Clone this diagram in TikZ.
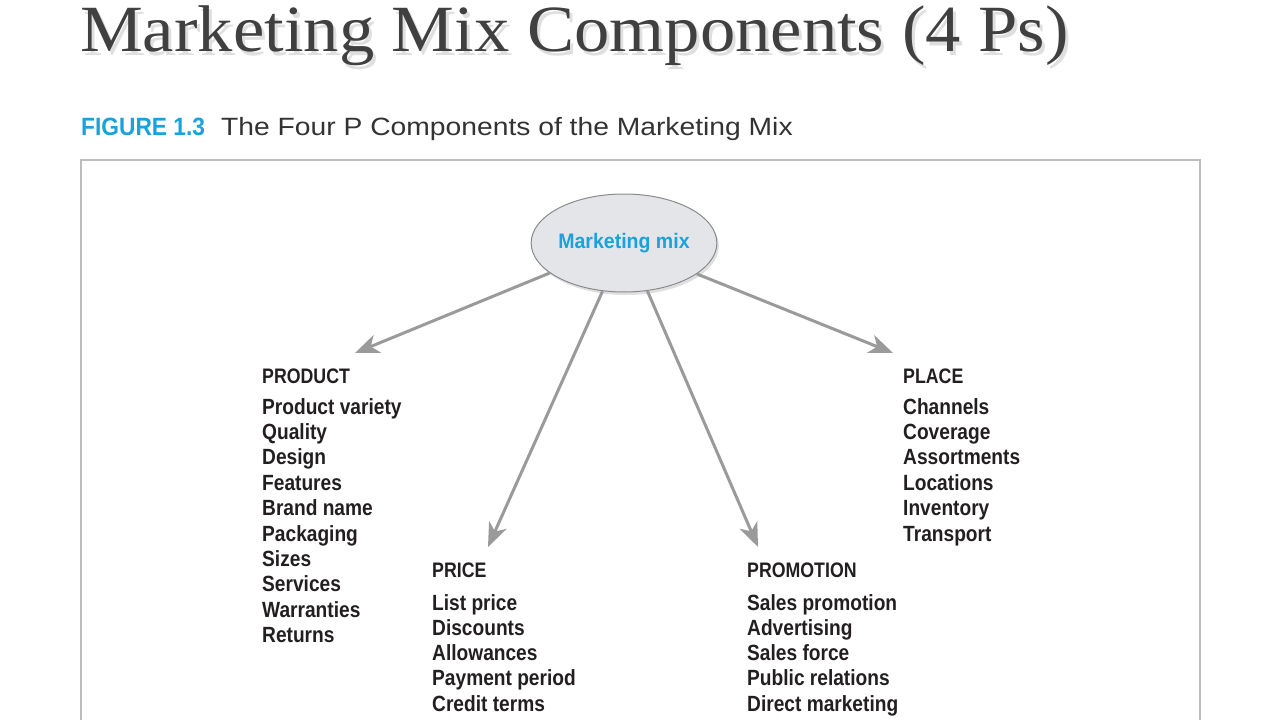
\documentclass[tikz,border=0pt]{standalone}
\usepackage{fontspec}
\setmainfont{Liberation Serif}
\newfontfamily\titlefont[FakeStretch=1.07]{Liberation Serif}
\newfontfamily\condsans[FakeStretch=0.87]{Liberation Sans}
\newfontfamily\headsans[FakeStretch=0.845]{Liberation Sans}
\newfontfamily\figsans[FakeStretch=0.91]{Liberation Sans}
\newfontfamily\ellsans[FakeStretch=0.93]{Liberation Sans}
\newfontfamily\plainsans[FakeStretch=1.13]{Liberation Sans}
\usetikzlibrary{arrows.meta,shapes.geometric,shadows}
\definecolor{blue1}{HTML}{1BA1DB}
\definecolor{txt}{HTML}{231F20}
\definecolor{subtxt}{HTML}{333333}
\definecolor{arrgray}{HTML}{9A9A9A}
\definecolor{ellfill}{HTML}{E4E5E9}
\definecolor{ellline}{HTML}{8A8A8A}
\definecolor{framegray}{HTML}{BDBDBD}
\tikzset{
  x=1pt, y=-1pt,
  titletext/.style={anchor=base west, inner sep=0pt, font=\titlefont\fontsize{66}{66}\selectfont},
  item/.style={anchor=base west, inner sep=0pt, text=txt, font=\condsans\bfseries\fontsize{22}{22}\selectfont},
  head/.style={item, font=\headsans\bfseries\fontsize{21}{21}\selectfont},
  arr/.style={draw=arrgray, line width=3pt, -{Stealth[length=24pt,width=19pt,inset=7pt]}},
}
\begin{document}
\begin{tikzpicture}
\useasboundingbox (0,0) rectangle (1280,720);
\clip (0,0) rectangle (1280,720);
% title
\node[titletext, text=gray!25] (titleshadow) at (83,55) {Marketing Mix Components (4 Ps)};
\node[titletext, text=black!75] (title) at (80,51) {Marketing Mix Components (4 Ps)};
% subtitle
\node[anchor=base west, inner sep=0pt, text=blue1, font=\figsans\bfseries\fontsize{25}{25}\selectfont] (fig) at (81,135) {FIGURE 1.3};
\node[anchor=base west, inner sep=0pt, text=subtxt, font=\plainsans\fontsize{25}{25}\selectfont] (cap) at (221,135) {The Four P Components of the Marketing Mix};
% frame
\draw[framegray, line width=1.5pt] (81,740) -- (81,160) -- (1200,160) -- (1200,740);
% ellipse
\node[ellipse, minimum width=181pt, minimum height=98pt, inner sep=0pt, fill=ellfill, draw=ellline, line width=1pt,
  drop shadow={shadow xshift=2pt, shadow yshift=-3pt, opacity=0.25},
  text=blue1, font=\ellsans\bfseries\fontsize{21}{21}\selectfont] (mm) at (624,243) {Marketing mix};
% arrow targets
\coordinate (tprod) at (355,353);
\coordinate (tprice) at (488,547);
\coordinate (tpromo) at (758,547);
\coordinate (tplace) at (893,353);
\draw[arr] (mm.202.6) -- (tprod);
\draw[arr] (mm.246.4) -- (tprice);
\draw[arr] (mm.296.6) -- (tpromo);
\draw[arr] (mm.337.7) -- (tplace);
% PRODUCT
\node[head] (hprod) at (262,383) {PRODUCT};
\foreach \t [count=\i] in {Product variety, Quality, Design, Features, Brand name, Packaging, Sizes, Services, Warranties, Returns}
  \node[item] (prod\i) at ({262},{414+(\i-1)*25.4}) {\t};
% PRICE
\node[head] (hprice) at (432,577) {PRICE};
\foreach \t [count=\i] in {List price, Discounts, Allowances, Payment period, Credit terms}
  \node[item] (price\i) at ({432},{610+(\i-1)*25.3}) {\t};
% PROMOTION
\node[head] (hpromo) at (747,577) {PROMOTION};
\foreach \t [count=\i] in {Sales promotion, Advertising, Sales force, Public relations, Direct marketing}
  \node[item] (promo\i) at ({747},{610+(\i-1)*25.3}) {\t};
% PLACE
\node[head] (hplace) at (903,383) {PLACE};
\foreach \t [count=\i] in {Channels, Coverage, Assortments, Locations, Inventory, Transport}
  \node[item] (place\i) at ({903},{414+(\i-1)*25.4}) {\t};
\end{tikzpicture}
\end{document}
